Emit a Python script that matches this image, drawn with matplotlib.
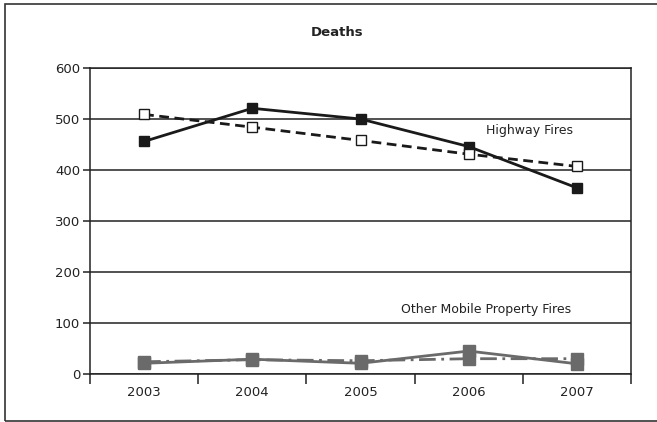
import matplotlib
matplotlib.use("Agg")
import matplotlib.pyplot as plt
from matplotlib.patches import Rectangle

plt.rcParams['font.family'] = ['DejaVu Sans']

years = ["2003", "2004", "2005", "2006", "2007"]
highway_a = [456, 521, 500, 446, 365]
highway_b = [509, 484, 458, 431, 407]
other_a = [21, 29, 21, 45, 20]
other_b = [24, 28, 26, 30, 30]
y_ticks = [0, 100, 200, 300, 400, 500, 600]

fig = plt.figure(figsize=(6.57, 4.22), dpi=100)
ax = fig.add_axes([90 / 657, 48 / 422, 541 / 657, 306 / 422])

x = list(range(1, len(years) + 1))
grey = "#6a6a6a"
ax.plot(x, highway_a, color="#1a1a1a", lw=2.0, marker="s", ms=7,
        mfc="#1a1a1a", mec="#1a1a1a", zorder=4)
ax.plot(x, highway_b, color="#1a1a1a", lw=2.0, ls=(0, (3.5, 2)), marker="s", ms=7,
        mfc="white", mec="#1a1a1a", mew=1.0, zorder=5)
ax.plot(x, other_b, color=grey, lw=2.0, ls=(0, (6, 2, 1, 2)), marker="s", ms=8,
        mfc=grey, mec=grey, zorder=3)
ax.plot(x, other_a, color=grey, lw=2.0, marker="s", ms=8,
        mfc=grey, mec=grey, zorder=3)

ax.set_xlim(0.5, len(years) + 0.5)
ax.set_ylim(0, 600)
ax.set_yticks(y_ticks)
ax.set_yticklabels([str(v) for v in y_ticks], fontsize=9.5, color="#222222")
ax.yaxis.grid(True, color="#222222", lw=1.1)
ax.set_axisbelow(True)

ax.set_xticks([i + 0.5 for i in range(len(years) + 1)])
ax.set_xticklabels([])
ax.set_xticks(x, minor=True)
ax.set_xticklabels(years, minor=True, fontsize=9.5, color="#222222")
ax.tick_params(axis="x", which="major", direction="out", length=7, width=1.1, color="#222222")
ax.tick_params(axis="x", which="minor", length=0, pad=9)
ax.tick_params(axis="y", direction="out", length=5, width=1.1, color="#222222", pad=2)
for s in ax.spines.values():
    s.set_color("#222222")
    s.set_linewidth(1.1)

ax.text(4.56, 478, "Highway Fires", fontsize=9, color="#222222", ha="center", va="center")
ax.text(4.16, 127, "Other Mobile Property Fires", fontsize=9, color="#222222",
        ha="center", va="center")
fig.text(337 / 657, 1 - 32 / 422, "Deaths", fontsize=9.5, fontweight="bold",
         color="#222222", ha="center", va="center")

fig.patches.append(Rectangle((5 / 657, 1 / 422), 1.2, 1 - 5 / 422,
                             transform=fig.transFigure, fill=False,
                             edgecolor="#333333", lw=1.2, clip_on=False))

fig.savefig("out.png", dpi=100)
